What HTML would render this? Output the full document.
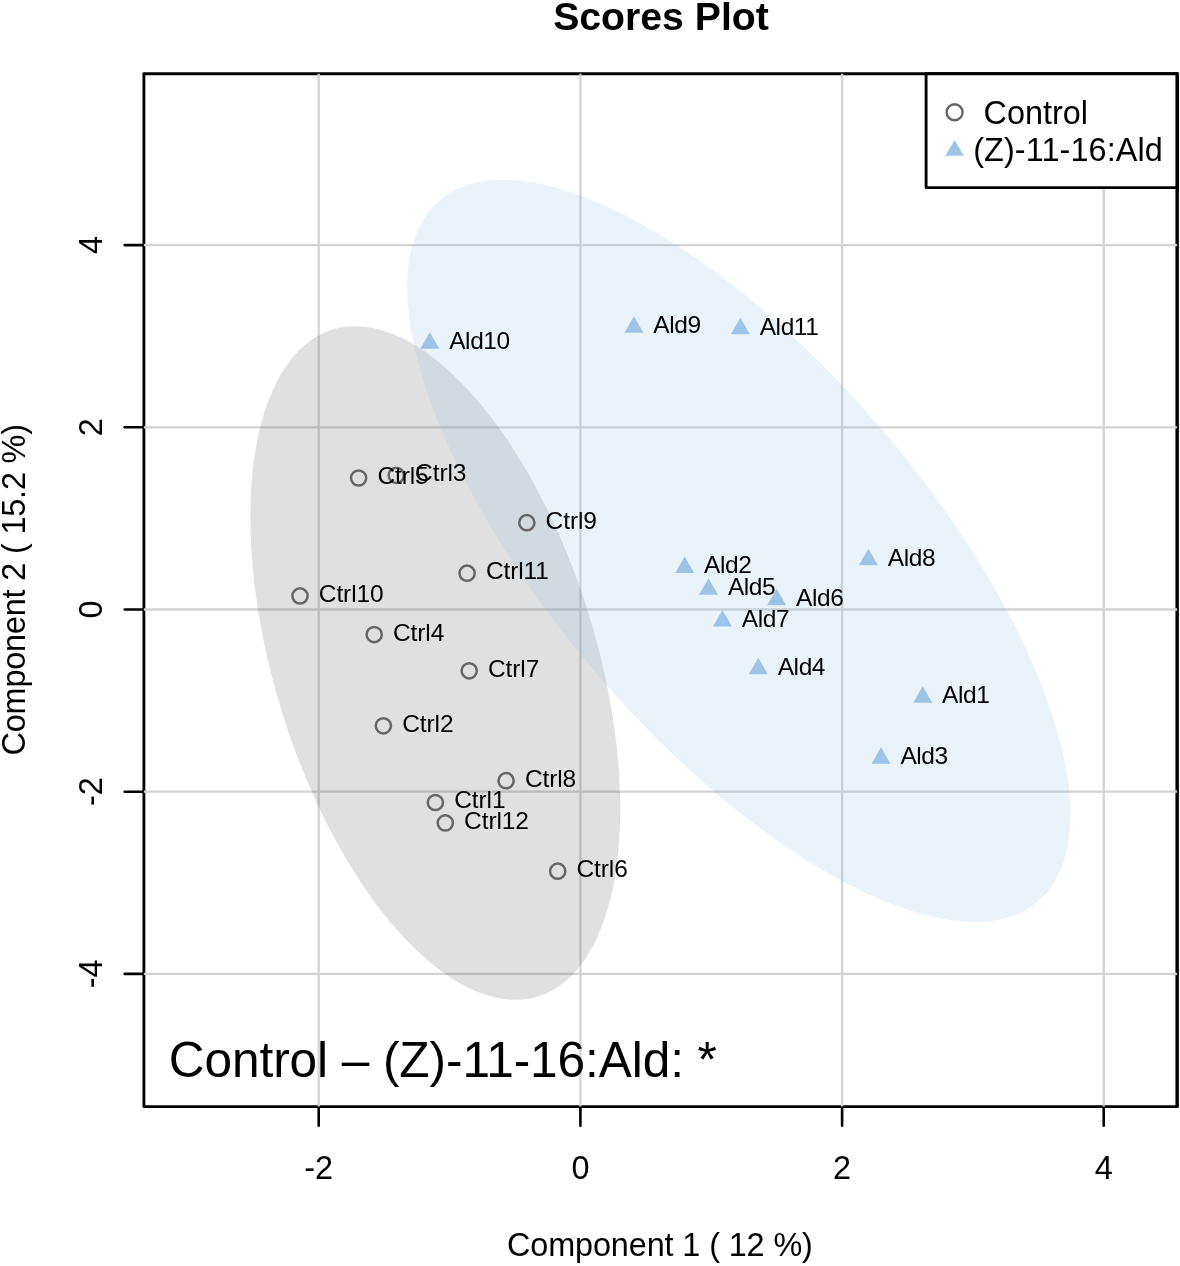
<!DOCTYPE html>
<html><head><meta charset="utf-8"><title>Scores Plot</title>
<style>
html,body{margin:0;padding:0;background:#fff;}
svg{display:block;}
text{font-family:"Liberation Sans",Arial,Helvetica,sans-serif;fill:#000;}
.ax{font-size:32.4px;}
.pl{font-size:24.5px;}
</style></head><body>
<svg width="1180" height="1266" viewBox="0 0 1180 1266">
<rect x="0" y="0" width="1180" height="1266" fill="#fff"/>
<text x="661" y="30" text-anchor="middle" font-size="39.2px" font-weight="bold">Scores Plot</text>
<rect x="143.9" y="73.7" width="1033.2" height="1032.9" fill="none" stroke="#000" stroke-width="2.85" stroke-linejoin="round"/>
<line x1="1177.1999999999998" y1="73.7" x2="1177.1999999999998" y2="1106.6" stroke="#000" stroke-width="3.1" stroke-linecap="round"/>
<g stroke="#000" stroke-width="2.6" stroke-linecap="round">
<line x1="318.7" y1="1106.6" x2="318.7" y2="1125.8"/>
<line x1="580.4" y1="1106.6" x2="580.4" y2="1125.8"/>
<line x1="842.1" y1="1106.6" x2="842.1" y2="1125.8"/>
<line x1="1103.7" y1="1106.6" x2="1103.7" y2="1125.8"/>
<line x1="124.7" y1="973.9" x2="143.9" y2="973.9"/>
<line x1="124.7" y1="791.7" x2="143.9" y2="791.7"/>
<line x1="124.7" y1="609.5" x2="143.9" y2="609.5"/>
<line x1="124.7" y1="427.3" x2="143.9" y2="427.3"/>
<line x1="124.7" y1="245.1" x2="143.9" y2="245.1"/>
</g>
<g stroke="#d3d3d3" stroke-width="2.3" fill="none">
<line x1="318.7" y1="73.7" x2="318.7" y2="1106.6"/>
<line x1="580.4" y1="73.7" x2="580.4" y2="1106.6"/>
<line x1="842.1" y1="73.7" x2="842.1" y2="1106.6"/>
<line x1="1103.7" y1="73.7" x2="1103.7" y2="1106.6"/>
<line x1="143.9" y1="973.9" x2="1177.1" y2="973.9"/>
<line x1="143.9" y1="791.7" x2="1177.1" y2="791.7"/>
<line x1="143.9" y1="609.5" x2="1177.1" y2="609.5"/>
<line x1="143.9" y1="427.3" x2="1177.1" y2="427.3"/>
<line x1="143.9" y1="245.1" x2="1177.1" y2="245.1"/>
</g>
<ellipse cx="435.3" cy="663.0" rx="348.9" ry="161.0" transform="rotate(72.89 435.3 663.0)" fill="#666666" fill-opacity="0.2"/>
<ellipse cx="738.8" cy="550.9" rx="460.9" ry="187.8" transform="rotate(49.50 738.8 550.9)" fill="#9dc3e6" fill-opacity="0.2"/>
<g fill="none" stroke="#666666" stroke-width="2.5">
<circle cx="358.6" cy="478.0" r="7.6"/>
<circle cx="396.3" cy="475.3" r="7.6"/>
<circle cx="526.8" cy="522.7" r="7.6"/>
<circle cx="467.1" cy="573.2" r="7.6"/>
<circle cx="300.0" cy="595.9" r="7.6"/>
<circle cx="374.2" cy="634.6" r="7.6"/>
<circle cx="469.2" cy="670.8" r="7.6"/>
<circle cx="383.4" cy="725.8" r="7.6"/>
<circle cx="506.1" cy="780.7" r="7.6"/>
<circle cx="435.4" cy="802.5" r="7.6"/>
<circle cx="445.3" cy="822.9" r="7.6"/>
<circle cx="557.7" cy="871.2" r="7.6"/>
</g>
<polygon points="429.8,332.3 439.3,348.8 420.3,348.8" fill="#9dc3e6"/>
<polygon points="633.9,316.3 643.4,332.8 624.4,332.8" fill="#9dc3e6"/>
<polygon points="740.3,317.8 749.8,334.3 730.8,334.3" fill="#9dc3e6"/>
<polygon points="684.7,556.5 694.2,573.0 675.2,573.0" fill="#9dc3e6"/>
<polygon points="708.5,578.2 718.0,594.7 699.0,594.7" fill="#9dc3e6"/>
<polygon points="776.6,588.7 786.1,605.2 767.1,605.2" fill="#9dc3e6"/>
<polygon points="722.4,610.0 731.9,626.5 712.9,626.5" fill="#9dc3e6"/>
<polygon points="758.3,657.8 767.8,674.3 748.8,674.3" fill="#9dc3e6"/>
<polygon points="868.4,548.7 877.9,565.2 858.9,565.2" fill="#9dc3e6"/>
<polygon points="922.7,686.3 932.2,702.8 913.2,702.8" fill="#9dc3e6"/>
<polygon points="881.0,747.3 890.5,763.8 871.5,763.8" fill="#9dc3e6"/>
<g class="pl">
<text x="377.4" y="483.9" letter-spacing="-0.1">Ctrl5</text>
<text x="415.1" y="481.2" letter-spacing="-0.1">Ctrl3</text>
<text x="545.6" y="528.6" letter-spacing="-0.1">Ctrl9</text>
<text x="485.9" y="579.1" letter-spacing="-0.1">Ctrl11</text>
<text x="318.8" y="601.8" letter-spacing="-0.1">Ctrl10</text>
<text x="393.0" y="640.5" letter-spacing="-0.1">Ctrl4</text>
<text x="488.0" y="676.7" letter-spacing="-0.1">Ctrl7</text>
<text x="402.2" y="731.7" letter-spacing="-0.1">Ctrl2</text>
<text x="524.9" y="786.6" letter-spacing="-0.1">Ctrl8</text>
<text x="454.2" y="808.4" letter-spacing="-0.1">Ctrl1</text>
<text x="464.1" y="828.8" letter-spacing="-0.1">Ctrl12</text>
<text x="576.5" y="877.1" letter-spacing="-0.1">Ctrl6</text>
<text x="449.2" y="349.2" letter-spacing="-0.42">Ald10</text>
<text x="653.3" y="333.2" letter-spacing="-0.42">Ald9</text>
<text x="759.7" y="334.7" letter-spacing="-0.42">Ald11</text>
<text x="704.1" y="573.4" letter-spacing="-0.42">Ald2</text>
<text x="727.9" y="595.1" letter-spacing="-0.42">Ald5</text>
<text x="796.0" y="605.6" letter-spacing="-0.42">Ald6</text>
<text x="741.8" y="626.9" letter-spacing="-0.42">Ald7</text>
<text x="777.7" y="674.7" letter-spacing="-0.42">Ald4</text>
<text x="887.8" y="565.6" letter-spacing="-0.42">Ald8</text>
<text x="942.1" y="703.2" letter-spacing="-0.42">Ald1</text>
<text x="900.4" y="764.2" letter-spacing="-0.42">Ald3</text>
</g>
<text x="168.8" y="1077" font-size="49.6px" letter-spacing="-0.09">Control – (Z)-11-16:Ald: *</text>
<rect x="926.1" y="73.7" width="251.0" height="113.9" fill="#fff" stroke="#000" stroke-width="2.85" stroke-linejoin="round"/>
<line x1="1177.1999999999998" y1="73.7" x2="1177.1999999999998" y2="187.6" stroke="#000" stroke-width="3.1" stroke-linecap="round"/>
<circle cx="954.6" cy="112.2" r="8" fill="none" stroke="#666666" stroke-width="2.4"/>
<polygon points="954.6,139.9 963.8,155.8 945.4,155.8" fill="#9dc3e6"/>
<text class="ax" x="983.6" y="123.6" letter-spacing="0.0">Control</text>
<text class="ax" x="973.2" y="161.0" letter-spacing="0.1">(Z)-11-16:Ald</text>
<g class="ax" text-anchor="middle">
<text x="318.7" y="1179.3">-2</text>
<text x="580.4" y="1179.3">0</text>
<text x="842.1" y="1179.3">2</text>
<text x="1103.7" y="1179.3">4</text>
<text transform="translate(102 973.9) rotate(-90)">-4</text>
<text transform="translate(102 791.7) rotate(-90)">-2</text>
<text transform="translate(102 609.5) rotate(-90)">0</text>
<text transform="translate(102 427.3) rotate(-90)">2</text>
<text transform="translate(102 245.1) rotate(-90)">4</text>
<text text-anchor="start" x="507.0" y="1255.8" letter-spacing="-0.11">Component 1 ( 12 %)</text>
<text text-anchor="start" transform="translate(25.2 755.5) rotate(-90)" letter-spacing="-0.17">Component 2 ( 15.2 %)</text>
</g>
</svg></body></html>
